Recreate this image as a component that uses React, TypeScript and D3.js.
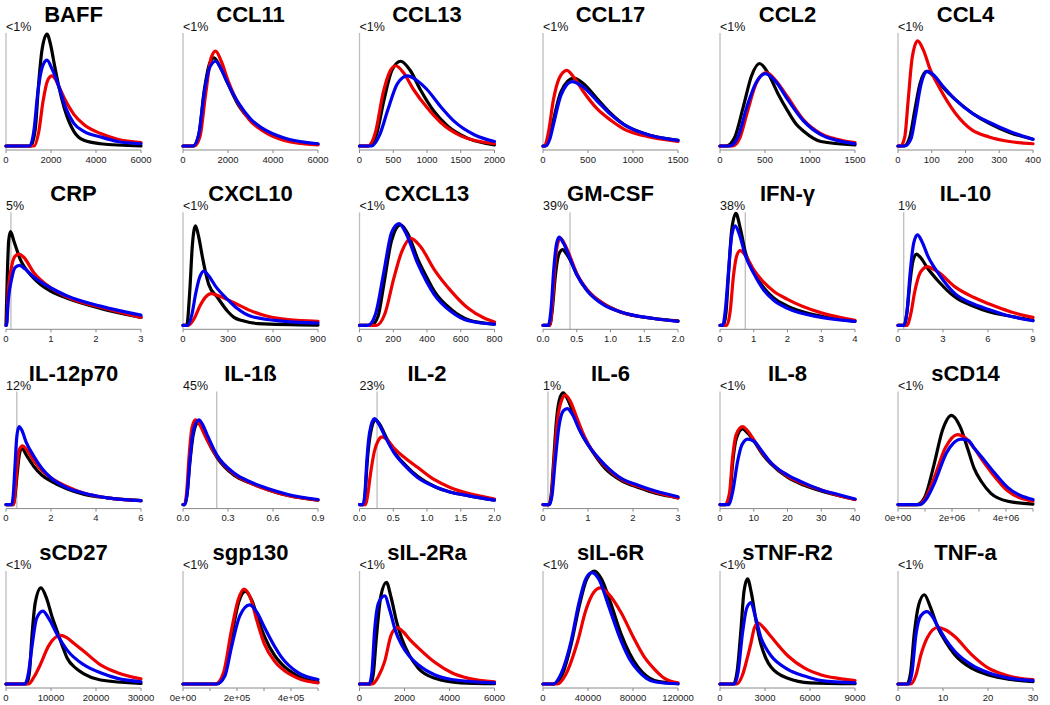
import React from "react";
import * as d3 from "d3";

type Pt = [number, number];

const panelNames = ["BAFF","CCL11","CCL13","CCL17","CCL2","CCL4","CRP","CXCL10","CXCL13","GM-CSF","IFN-γ","IL-10","IL-12p70","IL-1ß","IL-2","IL-6","IL-8","sCD14","sCD27","sgp130","sIL-2Ra","sIL-6R","sTNF-R2","TNF-a"];

const xMax = [6000,6000,2000,1500,1500,400,3,900,800,2,4,9,6,0.9,2,3,40,5e6,30000,5e5,6000,120000,9000,30];

const tickValues = [
  [0,2000,4000,6000],[0,2000,4000,6000],[0,500,1000,1500,2000],[0,500,1000,1500],[0,500,1000,1500],[0,100,200,300,400],
  [0,1,2,3],[0,300,600,900],[0,200,400,600,800],[0,0.5,1,1.5,2],[0,1,2,3,4],[0,3,6,9],
  [0,2,4,6],[0,0.3,0.6,0.9],[0,0.5,1,1.5,2],[0,1,2,3],[0,10,20,30,40],[0,1e6,2e6,3e6,4e6,5e6],
  [0,10000,20000,30000],[0,1e5,2e5,3e5,4e5,5e5],[0,2000,4000,6000],[0,40000,80000,120000],[0,3000,6000,9000],[0,10,20,30],
];

const tickLabels = [
  ["0","2000","4000","6000"],["0","2000","4000","6000"],["0","500","1000","1500","2000"],["0","500","1000","1500"],["0","500","1000","1500"],["0","100","200","300","400"],
  ["0","1","2","3"],["0","300","600","900"],["0","200","400","600","800"],["0.0","0.5","1.0","1.5","2.0"],["0","1","2","3","4"],["0","3","6","9"],
  ["0","2","4","6"],["0.0","0.3","0.6","0.9"],["0.0","0.5","1.0","1.5","2.0"],["0","1","2","3"],["0","10","20","30","40"],["0e+00","","2e+06","","4e+06",""],
  ["0","10000","20000","30000"],["0e+00","","2e+05","","4e+05",""],["0","2000","4000","6000"],["0","40000","80000","120000"],["0","3000","6000","9000"],["0","10","20","30"],
];

const lodValues = [0,0,0,0,0,0,0.11,0,0,0.4,0.75,0.38,0.48,0.225,0.26,0.11,0,0,0,0,0,0,0,0];
const lodLabels = ["<1%","<1%","<1%","<1%","<1%","<1%","5%","<1%","<1%","39%","38%","1%","12%","45%","23%","1%","<1%","<1%","<1%","<1%","<1%","<1%","<1%","<1%"];

// density curves (x in data units, y as fraction of panel height)
const blackDensity: Pt[][] = [
  [[0,0],[1100,0],[1300,0.15],[1450,0.55],[1600,0.85],[1820,0.99],[2000,0.88],[2150,0.72],[2343,0.53],[2600,0.33],[3015,0.13],[3460,0.05],[4200,0.02],[6000,0]],
  [[0,0],[450,0],[700,0.1],[950,0.5],[1200,0.74],[1380,0.78],[1650,0.7],[2000,0.55],[2500,0.35],[3000,0.23],[3500,0.15],[4500,0.06],[6000,0.015]],
  [[0,0],[130,0],[250,0.1],[360,0.4],[480,0.67],[610,0.75],[750,0.67],[900,0.5],[1100,0.31],[1300,0.18],[1600,0.07],[2000,0.01]],
  [[0,0],[25,0],[70,0.07],[116,0.23],[200,0.48],[340,0.6],[450,0.55],[600,0.42],[750,0.29],[900,0.19],[1125,0.11],[1500,0.05]],
  [[0,0],[70,0],[160,0.07],[260,0.35],[350,0.62],[440,0.73],[530,0.65],[640,0.47],[745,0.32],[850,0.19],[930,0.13],[1120,0.04],[1500,0.01]],
  [[0,0],[18,0],[35,0.08],[50,0.32],[65,0.55],[85,0.66],[105,0.62],[130,0.53],[170,0.41],[220,0.29],[270,0.2],[330,0.12],[400,0.06]],
  [[0,0],[0.03,0.45],[0.06,0.75],[0.1,0.83],[0.18,0.74],[0.31,0.59],[0.61,0.42],[1,0.3],[1.36,0.24],[2.1,0.15],[3,0.07]],
  [[0,0],[25,0],[45,0.3],[62,0.7],[83,0.88],[105,0.78],[130,0.6],[150,0.47],[172,0.36],[228,0.25],[300,0.12],[340,0.07],[400,0.04],[500,0.015],[900,0.002]],
  [[0,0],[70,0],[110,0.08],[144,0.36],[190,0.75],[244,0.89],[290,0.8],[344,0.59],[400,0.42],[444,0.3],[544,0.14],[644,0.05],[800,0.01]],
  [[0,0],[0.1,0],[0.14,0.15],[0.18,0.42],[0.23,0.62],[0.29,0.67],[0.35,0.63],[0.4,0.58],[0.5,0.45],[0.65,0.31],[0.9,0.19],[1.14,0.12],[1.64,0.06],[2,0.04]],
  [[0,0],[0.1,0],[0.18,0.12],[0.25,0.44],[0.35,0.85],[0.47,0.99],[0.6,0.86],[0.75,0.65],[1.0,0.47],[1.3,0.33],[1.6,0.24],[2,0.17],[3,0.08],[4,0.035]],
  [[0,0],[0.4,0],[0.6,0.12],[0.8,0.38],[1.0,0.57],[1.23,0.63],[1.5,0.6],[2,0.5],[2.69,0.39],[3.8,0.25],[5,0.17],[6.05,0.12],[7.5,0.08],[9,0.045]],
  [[0,0],[0.33,0],[0.4,0.08],[0.5,0.28],[0.6,0.45],[0.7,0.5],[0.9,0.44],[1.23,0.34],[1.6,0.26],[1.98,0.21],[2.7,0.14],[3.48,0.09],[4.5,0.06],[6,0.035]],
  [[0,0],[0.012,0],[0.028,0.1],[0.045,0.36],[0.07,0.63],[0.1,0.72],[0.13,0.68],[0.16,0.58],[0.225,0.42],[0.34,0.26],[0.45,0.19],[0.57,0.13],[0.7,0.08],[0.9,0.04]],
  [[0,0],[0.06,0],[0.085,0.1],[0.11,0.34],[0.16,0.62],[0.235,0.75],[0.3,0.71],[0.4,0.59],[0.51,0.47],[0.68,0.35],[0.86,0.25],[1.11,0.16],[1.35,0.11],[1.61,0.08],[2,0.04]],
  [[0,0],[0.13,0],[0.18,0.08],[0.23,0.35],[0.3,0.75],[0.38,0.95],[0.45,0.99],[0.55,0.93],[0.7,0.78],[0.85,0.63],[1.0,0.53],[1.38,0.32],[1.75,0.21],[2.13,0.15],[2.5,0.1],[3,0.06]],
  [[0,0],[1.8,0],[3,0.1],[3.7,0.35],[4.8,0.58],[6.7,0.67],[8,0.64],[10.1,0.56],[12.5,0.45],[15.1,0.36],[20.1,0.24],[25,0.17],[30,0.12],[35,0.08],[40,0.045]],
  [[0,0],[0.7e6,0],[1.0e6,0.07],[1.33e6,0.35],[1.65e6,0.66],[1.98e6,0.79],[2.3e6,0.69],[2.6e6,0.48],[2.82e6,0.32],[3.1e6,0.2],[3.44e6,0.1],[4.07e6,0.03],[5e6,0.005]],
  [[0,0],[4500,0],[5200,0.1],[5740,0.41],[6500,0.72],[7760,0.85],[9000,0.76],[10200,0.6],[11340,0.47],[12500,0.34],[13580,0.23],[15500,0.14],[17300,0.09],[21000,0.035],[30000,0.005]],
  [[0,0],[1.25e5,0],[1.55e5,0.1],[1.82e5,0.45],[2.07e5,0.73],[2.31e5,0.82],[2.55e5,0.74],[2.8e5,0.56],[3.02e5,0.42],[3.4e5,0.25],[3.64e5,0.18],[4.26e5,0.07],[5e5,0.015]],
  [[0,0],[500,0],[620,0.1],[750,0.41],[950,0.78],[1194,0.9],[1400,0.77],[1650,0.55],[1866,0.41],[2200,0.26],[2610,0.14],[3360,0.05],[4500,0.01],[6000,0.002]],
  [[0,0],[10000,0],[17000,0.08],[25000,0.35],[32000,0.68],[39000,0.93],[45740,1.0],[52000,0.93],[60000,0.72],[69500,0.44],[77000,0.27],[84350,0.15],[92000,0.07],[99200,0.03],[120000,0.002]],
  [[0,0],[900,0],[1150,0.12],[1390,0.47],[1600,0.82],[1836,0.93],[2100,0.8],[2400,0.56],[2730,0.35],[3050,0.23],[3400,0.15],[4520,0.05],[6000,0.01],[9000,0.002]],
  [[0,0],[2,0],[2.8,0.1],[3.6,0.44],[4.6,0.7],[5.85,0.79],[7.2,0.68],[8.85,0.5],[10.5,0.38],[12.6,0.26],[16.35,0.14],[20.1,0.08],[25,0.04],[30,0.02]],
];

const redDensity: Pt[][] = [
  [[0,0],[1250,0],[1450,0.12],[1650,0.4],[1850,0.58],[2045,0.62],[2200,0.59],[2343,0.53],[2650,0.4],[3015,0.28],[3460,0.19],[4209,0.11],[4955,0.06],[6000,0.03]],
  [[0,0],[500,0],[750,0.08],[1000,0.45],[1250,0.78],[1450,0.84],[1700,0.75],[2000,0.58],[2500,0.36],[3000,0.22],[3500,0.14],[4500,0.05],[6000,0.01]],
  [[0,0],[120,0],[240,0.13],[350,0.47],[450,0.66],[535,0.71],[650,0.65],[800,0.5],[1000,0.34],[1200,0.21],[1500,0.09],[2000,0.02]],
  [[0,0],[15,0],[60,0.12],[116,0.41],[180,0.6],[265,0.67],[350,0.6],[450,0.48],[600,0.33],[750,0.23],[900,0.15],[1125,0.09],[1500,0.04]],
  [[0,0],[140,0],[220,0.07],[300,0.29],[400,0.55],[515,0.65],[620,0.58],[745,0.44],[930,0.23],[1120,0.11],[1300,0.06],[1500,0.03]],
  [[0,0],[8,0],[20,0.08],[30,0.4],[42,0.78],[58,0.93],[75,0.85],[95,0.68],[120,0.53],[170,0.29],[220,0.14],[270,0.08],[330,0.04],[400,0.02]],
  [[0,0],[0.01,0],[0.05,0.3],[0.13,0.53],[0.2,0.61],[0.28,0.63],[0.4,0.6],[0.61,0.47],[1,0.33],[1.36,0.25],[2.1,0.16],[3,0.07]],
  [[0,0],[35,0],[70,0.05],[116,0.18],[150,0.25],[188,0.28],[240,0.26],[340,0.2],[450,0.13],[564,0.08],[700,0.05],[900,0.035]],
  [[0,0],[100,0],[150,0.1],[204,0.42],[250,0.65],[304,0.77],[360,0.7],[444,0.49],[544,0.3],[644,0.15],[744,0.06],[800,0.03]],
  [[0,0],[0.1,0],[0.14,0.2],[0.18,0.55],[0.22,0.73],[0.26,0.77],[0.32,0.72],[0.4,0.61],[0.5,0.46],[0.65,0.32],[0.9,0.19],[1.14,0.12],[1.64,0.06],[2,0.035]],
  [[0,0],[0.2,0],[0.3,0.12],[0.4,0.44],[0.5,0.62],[0.6,0.66],[0.75,0.62],[1.0,0.49],[1.3,0.38],[1.6,0.3],[2,0.23],[3,0.11],[4,0.045]],
  [[0,0],[0.6,0],[0.85,0.1],[1.12,0.3],[1.5,0.47],[1.97,0.52],[2.3,0.5],[2.69,0.47],[3.8,0.34],[5,0.25],[6.05,0.19],[7.5,0.12],[9,0.07]],
  [[0,0],[0.33,0],[0.4,0.1],[0.48,0.31],[0.58,0.48],[0.74,0.52],[0.9,0.49],[1.23,0.39],[1.6,0.3],[1.98,0.24],[2.7,0.16],[3.48,0.1],[4.5,0.06],[6,0.035]],
  [[0,0],[0.01,0],[0.025,0.12],[0.04,0.42],[0.06,0.68],[0.083,0.75],[0.11,0.71],[0.15,0.6],[0.225,0.43],[0.34,0.27],[0.45,0.19],[0.57,0.13],[0.7,0.08],[0.9,0.04]],
  [[0,0],[0.09,0],[0.12,0.08],[0.16,0.26],[0.22,0.47],[0.28,0.57],[0.335,0.6],[0.4,0.58],[0.51,0.5],[0.68,0.41],[0.86,0.33],[1.11,0.22],[1.35,0.15],[1.61,0.1],[2,0.05]],
  [[0,0],[0.14,0],[0.19,0.08],[0.25,0.4],[0.32,0.74],[0.42,0.93],[0.5,0.97],[0.6,0.92],[0.75,0.77],[0.88,0.64],[1.0,0.54],[1.38,0.34],[1.75,0.22],[2.13,0.16],[2.5,0.11],[3,0.06]],
  [[0,0],[1.5,0],[2.8,0.1],[3.7,0.41],[4.8,0.62],[6.7,0.69],[8,0.66],[10.1,0.57],[12.5,0.46],[15.1,0.37],[20.1,0.25],[25,0.18],[30,0.13],[35,0.08],[40,0.045]],
  [[0,0],[0.75e6,0],[1.0e6,0.05],[1.33e6,0.23],[1.75e6,0.5],[2.2e6,0.62],[2.5e6,0.59],[2.82e6,0.5],[3.1e6,0.4],[3.44e6,0.29],[4.07e6,0.12],[5e6,0.03]],
  [[0,0],[5000,0],[6200,0.06],[7610,0.17],[9500,0.34],[12090,0.43],[13500,0.41],[15070,0.36],[17300,0.29],[21000,0.17],[24770,0.1],[30000,0.045]],
  [[0,0],[1.2e5,0],[1.5e5,0.1],[1.79e5,0.47],[2.05e5,0.75],[2.26e5,0.84],[2.5e5,0.76],[2.75e5,0.55],[3.02e5,0.35],[3.4e5,0.2],[3.64e5,0.14],[4.26e5,0.05],[5e5,0.01]],
  [[0,0],[580,0],[850,0.07],[1120,0.2],[1400,0.43],[1672,0.5],[1950,0.46],[2250,0.39],[2610,0.32],[3360,0.19],[4100,0.1],[4850,0.05],[6000,0.02]],
  [[0,0],[13000,0],[20000,0.08],[30900,0.38],[38000,0.65],[45000,0.81],[51080,0.85],[58000,0.8],[69500,0.63],[80000,0.42],[90000,0.24],[99200,0.13],[108000,0.05],[120000,0.01]],
  [[0,0],[1100,0],[1500,0.08],[1800,0.22],[2060,0.36],[2300,0.5],[2550,0.54],[2900,0.5],[3400,0.42],[4520,0.25],[5640,0.14],[6760,0.08],[7880,0.05],[9000,0.03]],
  [[0,0],[2.8,0],[4,0.08],[5.1,0.26],[6.5,0.41],[8.85,0.5],[10.5,0.48],[12.6,0.42],[16.35,0.26],[20.1,0.14],[23.85,0.08],[27,0.05],[30,0.04]],
];

const blueDensity: Pt[][] = [
  [[0,0],[1050,0],[1250,0.15],[1400,0.45],[1600,0.69],[1820,0.76],[2050,0.68],[2343,0.53],[2650,0.34],[3015,0.2],[3460,0.13],[4209,0.08],[4955,0.04],[6000,0.02]],
  [[0,0],[450,0],[700,0.1],[950,0.48],[1200,0.7],[1450,0.75],[1700,0.68],[2000,0.55],[2500,0.37],[3000,0.24],[3500,0.16],[4500,0.07],[6000,0.02]],
  [[0,0],[180,0],[300,0.1],[420,0.32],[560,0.55],[710,0.62],[850,0.58],[1000,0.5],[1200,0.35],[1400,0.22],[1700,0.1],[2000,0.04]],
  [[0,0],[30,0],[75,0.06],[116,0.19],[200,0.45],[322,0.57],[450,0.52],[600,0.4],[750,0.28],[900,0.19],[1125,0.11],[1500,0.05]],
  [[0,0],[110,0],[200,0.08],[300,0.35],[400,0.56],[505,0.64],[620,0.57],[745,0.42],[930,0.22],[1120,0.1],[1300,0.05],[1500,0.02]],
  [[0,0],[20,0],[38,0.06],[52,0.27],[67,0.53],[87,0.66],[105,0.63],[130,0.54],[170,0.41],[220,0.29],[270,0.21],[330,0.13],[400,0.06]],
  [[0,0],[0.01,0],[0.05,0.22],[0.13,0.42],[0.2,0.51],[0.3,0.53],[0.42,0.5],[0.61,0.43],[1,0.33],[1.36,0.26],[2.1,0.17],[3,0.09]],
  [[0,0],[30,0],[60,0.1],[83,0.27],[110,0.42],[139,0.48],[170,0.44],[220,0.34],[296,0.23],[360,0.15],[452,0.08],[676,0.035],[900,0.02]],
  [[0,0],[50,0],[95,0.1],[144,0.47],[190,0.82],[234,0.9],[280,0.8],[344,0.55],[400,0.38],[444,0.27],[544,0.12],[644,0.04],[800,0.01]],
  [[0,0],[0.08,0],[0.12,0.15],[0.16,0.5],[0.2,0.72],[0.24,0.78],[0.3,0.73],[0.4,0.59],[0.5,0.45],[0.65,0.31],[0.9,0.18],[1.14,0.12],[1.64,0.06],[2,0.035]],
  [[0,0],[0.08,0],[0.16,0.14],[0.25,0.47],[0.35,0.8],[0.45,0.88],[0.58,0.8],[0.75,0.62],[1.0,0.46],[1.3,0.31],[1.6,0.22],[2,0.15],[3,0.07],[4,0.035]],
  [[0,0],[0.4,0],[0.6,0.12],[0.8,0.45],[1.05,0.73],[1.3,0.8],[1.6,0.74],[2,0.61],[2.69,0.46],[3.8,0.28],[5,0.19],[6.05,0.14],[7.5,0.08],[9,0.04]],
  [[0,0],[0.25,0],[0.32,0.08],[0.4,0.34],[0.48,0.6],[0.58,0.69],[0.7,0.66],[0.9,0.55],[1.23,0.43],[1.6,0.32],[1.98,0.24],[2.7,0.15],[3.48,0.1],[4.5,0.06],[6,0.035]],
  [[0,0],[0.012,0],[0.028,0.1],[0.045,0.38],[0.07,0.66],[0.106,0.75],[0.13,0.71],[0.16,0.62],[0.225,0.44],[0.34,0.28],[0.45,0.2],[0.57,0.14],[0.7,0.09],[0.9,0.045]],
  [[0,0],[0.05,0],[0.08,0.1],[0.11,0.4],[0.15,0.64],[0.22,0.76],[0.28,0.72],[0.38,0.6],[0.51,0.46],[0.68,0.34],[0.86,0.24],[1.11,0.16],[1.35,0.11],[1.61,0.08],[2,0.04]],
  [[0,0],[0.14,0],[0.2,0.08],[0.27,0.38],[0.35,0.68],[0.45,0.83],[0.54,0.85],[0.65,0.8],[0.8,0.67],[1.0,0.53],[1.38,0.35],[1.75,0.23],[2.13,0.17],[2.5,0.12],[3,0.07]],
  [[0,0],[2.5,0],[3.8,0.12],[5.2,0.38],[6.5,0.53],[8.2,0.58],[10.1,0.56],[12.5,0.47],[15.1,0.37],[20.1,0.26],[25,0.19],[30,0.13],[35,0.09],[40,0.05]],
  [[0,0],[0.8e6,0],[1.05e6,0.05],[1.33e6,0.18],[1.8e6,0.46],[2.33e6,0.58],[2.6e6,0.57],[2.82e6,0.5],[3.1e6,0.42],[3.44e6,0.32],[4.07e6,0.15],[5e6,0.045]],
  [[0,0],[4200,0],[5000,0.1],[5740,0.32],[6800,0.58],[8200,0.645],[9500,0.58],[11340,0.44],[13580,0.3],[17300,0.17],[21000,0.1],[24770,0.05],[30000,0.02]],
  [[0,0],[1.25e5,0],[1.55e5,0.07],[1.79e5,0.32],[2.1e5,0.6],[2.47e5,0.7],[2.75e5,0.63],[3.02e5,0.5],[3.4e5,0.33],[3.64e5,0.24],[4.26e5,0.1],[5e5,0.04]],
  [[0,0],[430,0],[550,0.1],[670,0.47],[850,0.72],[1120,0.78],[1350,0.65],[1600,0.47],[1866,0.35],[2200,0.25],[2610,0.17],[3360,0.08],[4100,0.04],[6000,0.01]],
  [[0,0],[9000,0],[16000,0.09],[25000,0.38],[32000,0.72],[38000,0.93],[43660,0.985],[50000,0.92],[58000,0.7],[69500,0.38],[77000,0.22],[84350,0.12],[92000,0.05],[99200,0.02],[120000,0.002]],
  [[0,0],[950,0],[1200,0.1],[1500,0.45],[1780,0.67],[2060,0.72],[2350,0.6],[2730,0.41],[3050,0.32],[3400,0.25],[4520,0.13],[5640,0.07],[6760,0.03],[9000,0.01]],
  [[0,0],[2.3,0],[3.1,0.1],[4,0.44],[5,0.6],[6.45,0.64],[7.6,0.6],[8.85,0.51],[10.5,0.4],[12.6,0.29],[16.35,0.17],[20.1,0.1],[25,0.05],[30,0.03]],
];

const seriesColors = ["#000000", "#ee0000", "#0000ee"];

const W = 1050;
const H = 705;
const colX = [6, 183, 359.5, 543, 720, 898];
const rowAxisY = [150, 329.3, 508.6, 688];
const plotW = 135;

function Panel({ i }: { i: number }) {
  const col = i % 6;
  const row = Math.floor(i / 6);
  const x0 = colX[col];
  const ay = rowAxisY[row];
  const x = d3.scaleLinear().domain([0, xMax[i]]).range([x0, x0 + plotW]);
  const y = d3.scaleLinear().domain([0, 1]).range([ay - 4, ay - 117]);
  const line = d3
    .line<Pt>()
    .x((d) => x(d[0]))
    .y((d) => y(d[1]))
    .curve(d3.curveMonotoneX);
  const curves = [blackDensity[i], redDensity[i], blueDensity[i]];
  const lx = x(lodValues[i]);
  return (
    <g>
      <text
        x={x0 + plotW / 2}
        y={ay - 128}
        textAnchor="middle"
        fontFamily="Arial, 'Liberation Sans', sans-serif"
        fontWeight="bold"
        fontSize={22}
        fill="#000"
      >
        {panelNames[i]}
      </text>
      <text
        x={x0}
        y={ay - 119}
        fontFamily="Arial, 'Liberation Sans', sans-serif"
        fontSize={12.5}
        fill="#111"
      >
        {lodLabels[i]}
      </text>
      <line x1={lx} x2={lx} y1={ay - 117} y2={ay} stroke="#bdbdbd" strokeWidth={1.3} />
      <line x1={x0} x2={x0 + plotW} y1={ay} y2={ay} stroke="#8a8a8a" strokeWidth={1} />
      {tickValues[i].map((t, k) => (
        <g key={k}>
          <line x1={x(t)} x2={x(t)} y1={ay} y2={ay + 3} stroke="#8a8a8a" strokeWidth={1} />
          {tickLabels[i][k] !== "" && (
            <text
              x={x(t)}
              y={ay + 12.5}
              textAnchor="middle"
              fontFamily="Arial, 'Liberation Sans', sans-serif"
              fontSize={9.5}
              fill="#222"
            >
              {tickLabels[i][k]}
            </text>
          )}
        </g>
      ))}
      {curves.map((c, k) => (
        <path
          key={k}
          d={line(c) || ""}
          fill="none"
          stroke={seriesColors[k]}
          strokeWidth={3.2}
          strokeLinejoin="round"
          strokeLinecap="round"
        />
      ))}
    </g>
  );
}

export default function App() {
  return (
    <svg
      width={W}
      height={H}
      style={{ position: "absolute", left: 0, top: 0, background: "#fff" }}
    >
      <rect x={0} y={0} width={W} height={H} fill="#fff" />
      {panelNames.map((_, i) => (
        <Panel key={i} i={i} />
      ))}
    </svg>
  );
}
